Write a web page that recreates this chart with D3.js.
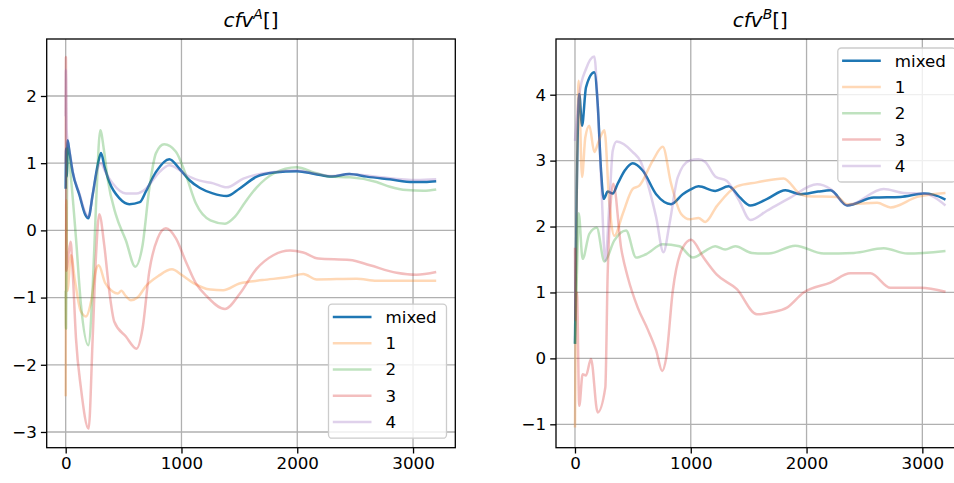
<!DOCTYPE html>
<html>
<head>
<meta charset="utf-8">
<script src="https://cdn.jsdelivr.net/npm/d3@7"></script>
<style>
  body { margin: 0; background: #fff; }
  svg { display: block; font-family: "DejaVu Sans", sans-serif; }
</style>
</head>
<body>
<svg id="chart" width="954" height="483"></svg>
<script>
// series labels + colours (matplotlib tab10)
var labels = ["mixed", "1", "2", "3", "4"];
var colors = ["#1f77b4", "#ff7f0e", "#2ca02c", "#d62728", "#9467bd"];

var xTicks = [0, 1000, 2000, 3000];
var yTicksA = [-3, -2, -1, 0, 1, 2];
var yTicksB = [-1, 0, 1, 2, 3, 4];

// cfv^A[] : [step, value]
var aMixed = [[0,0.62],[4,1.22],[9,0.8],[17,1.34],[30,1.2],[60,0.87],[118,0.53],[170,0.23],[195,0.18],[233,0.53],[276,0.97],[305,1.15],[335,0.95],[377,0.72],[463,0.48],[550,0.39],[640,0.42],[693,0.58],[780,0.87],[895,1.06],[981,0.92],[1067,0.75],[1160,0.63],[1270,0.55],[1390,0.51],[1500,0.62],[1650,0.8],[1800,0.86],[2000,0.88],[2150,0.84],[2300,0.80],[2450,0.84],[2600,0.8],[2800,0.76],[3000,0.72],[3100,0.72],[3200,0.73]];
var aOne = [[0,-2.47],[5,0.45],[14,-0.9],[46,-0.37],[80,-0.75],[130,-1.2],[175,-1.28],[220,-1.05],[260,-0.6],[285,-0.52],[340,-0.78],[405,-0.91],[450,-0.94],[480,-0.9],[520,-0.98],[563,-1.04],[620,-1.0],[693,-0.83],[800,-0.68],[918,-0.58],[1000,-0.66],[1100,-0.78],[1250,-0.88],[1360,-0.89],[1500,-0.79],[1700,-0.74],[1937,-0.69],[2052,-0.65],[2168,-0.73],[2513,-0.72],[2685,-0.75],[3200,-0.75]];
var aTwo = [[0,-0.9],[3,-1.46],[10,0.3],[17,1.22],[46,0.77],[89,-0.12],[132,-1.11],[195,-1.71],[233,-0.86],[262,0.38],[299,1.49],[330,1.2],[362,0.77],[434,0.23],[520,-0.15],[601,-0.54],[664,-0.22],[722,0.62],[780,1.15],[851,1.28],[952,1.17],[1039,0.82],[1125,0.40],[1250,0.15],[1376,0.1],[1460,0.2],[1550,0.42],[1650,0.64],[1800,0.85],[1995,0.94],[2150,0.86],[2282,0.8],[2455,0.79],[2685,0.72],[2800,0.65],[2945,0.60],[3090,0.59],[3200,0.61]];
var aThree = [[0,1.0],[2,2.58],[6,-0.6],[25,-0.35],[43,-0.17],[60,-0.6],[89,-1.61],[132,-2.35],[198,-2.95],[233,-1.61],[262,-0.37],[290,0.24],[333,-0.22],[377,-0.91],[420,-1.36],[520,-1.58],[612,-1.76],[664,-1.46],[722,-0.61],[794,-0.12],[866,0.03],[952,-0.12],[1039,-0.47],[1125,-0.79],[1218,-0.98],[1376,-1.17],[1505,-0.94],[1650,-0.57],[1793,-0.37],[1937,-0.30],[2052,-0.33],[2182,-0.42],[2455,-0.44],[2628,-0.52],[2858,-0.63],[3030,-0.66],[3200,-0.62]];
var aFour = [[0,1.7],[2,2.39],[8,1.5],[17,1.32],[30,1.22],[60,0.88],[118,0.55],[170,0.26],[195,0.2],[233,0.53],[276,0.92],[305,1.0],[340,0.88],[405,0.7],[520,0.55],[610,0.55],[693,0.62],[800,0.85],[895,0.97],[981,0.9],[1045,0.82],[1160,0.74],[1275,0.70],[1390,0.64],[1534,0.77],[1650,0.83],[1800,0.87],[2000,0.89],[2150,0.85],[2300,0.81],[2450,0.84],[2685,0.80],[3030,0.75],[3200,0.76]];

// cfv^B[]
var bMixed = [[0,0.22],[15,2.5],[37,4.01],[61,3.53],[95,4.11],[167,4.34],[196,3.86],[225,2.85],[248,2.42],[283,2.53],[326,2.50],[369,2.65],[430,2.85],[499,2.96],[585,2.85],[701,2.49],[830,2.34],[931,2.49],[995,2.56],[1067,2.61],[1211,2.54],[1326,2.61],[1420,2.45],[1514,2.32],[1660,2.42],[1817,2.55],[1946,2.49],[2100,2.53],[2206,2.55],[2350,2.32],[2580,2.44],[2811,2.45],[3013,2.50],[3100,2.48],[3200,2.41]];
var bOne = [[0,-1.05],[32,4.21],[61,2.75],[89,3.35],[124,3.53],[167,3.13],[196,3.25],[230,3.4],[254,3.46],[297,2.34],[340,1.86],[412,2.19],[499,2.57],[556,2.62],[672,3.0],[758,3.21],[830,2.65],[917,2.19],[989,2.11],[1067,2.13],[1125,2.07],[1225,2.31],[1398,2.61],[1571,2.67],[1802,2.73],[1946,2.49],[2004,2.46],[2264,2.45],[2350,2.34],[2610,2.36],[2725,2.29],[2956,2.45],[3200,2.51]];
var bTwo = [[0,0.22],[20,1.5],[32,2.2],[66,1.51],[124,1.89],[188,1.98],[254,1.47],[340,1.79],[441,1.94],[528,1.53],[614,1.58],[758,1.73],[902,1.70],[1018,1.53],[1133,1.64],[1211,1.70],[1297,1.65],[1384,1.70],[1528,1.60],[1672,1.59],[1903,1.71],[2148,1.59],[2408,1.60],[2667,1.67],[2870,1.59],[3200,1.63]];
var bThree = [[0,1.68],[5,0.58],[17,1.0],[37,-0.72],[66,-0.24],[95,-0.26],[138,-0.01],[196,-0.82],[262,-0.44],[283,1.33],[331,2.65],[398,1.68],[456,1.23],[542,0.77],[628,0.44],[701,0.12],[753,-0.19],[787,0.0],[845,1.03],[931,1.68],[1003,1.80],[1110,1.53],[1225,1.27],[1398,1.05],[1571,0.67],[1700,0.7],[1831,0.77],[1975,1.0],[2206,1.15],[2379,1.29],[2552,1.29],[2725,1.07],[2985,1.07],[3200,1.01]];
var bFour = [[0,3.3],[37,4.0],[95,4.39],[167,4.58],[196,3.86],[225,2.75],[262,1.48],[297,2.34],[326,3.15],[360,3.29],[499,3.13],[571,2.97],[628,2.65],[701,2.14],[764,1.61],[816,2.04],[888,2.75],[989,3.0],[1067,3.02],[1125,2.98],[1211,2.76],[1312,2.69],[1413,2.41],[1514,2.10],[1658,2.24],[1860,2.44],[2091,2.64],[2206,2.57],[2350,2.32],[2667,2.57],[2840,2.51],[3013,2.50],[3200,2.32]];

var svg = d3.select("#chart");
var FS = 16.7;

function drawPanel(p) {
  var x = d3.scaleLinear().domain([-164, 3365]).range([p.left, p.left + 408.6]);
  var y = d3.scaleLinear().domain(p.yDomain).range([447.7, 39]);
  var top = 39, bottom = 447.7, left = p.left, right = p.left + 408.6;

  var g = svg.append("g");
  var clipId = "clip" + p.id;
  g.append("clipPath").attr("id", clipId)
    .append("rect").attr("x", left).attr("y", top)
    .attr("width", right - left).attr("height", bottom - top);

  // grid
  g.selectAll(".gx").data(xTicks).enter().append("line")
    .attr("x1", function(d){ return x(d); }).attr("x2", function(d){ return x(d); })
    .attr("y1", top).attr("y2", bottom)
    .attr("stroke", "#b0b0b0").attr("stroke-width", 1.3);
  g.selectAll(".gy").data(p.yTicks).enter().append("line")
    .attr("x1", left).attr("x2", right)
    .attr("y1", function(d){ return y(d); }).attr("y2", function(d){ return y(d); })
    .attr("stroke", "#b0b0b0").attr("stroke-width", 1.3);

  // lines
  var line = d3.line()
    .x(function(d){ return x(d[0]); })
    .y(function(d){ return y(d[1]); })
    .curve(d3.curveMonotoneX);
  var lines = g.append("g").attr("clip-path", "url(#" + clipId + ")");
  p.series.forEach(function(s, i){
    lines.append("path").datum(s)
      .attr("d", line)
      .attr("fill", "none")
      .attr("stroke", colors[i])
      .attr("stroke-width", 2.5)
      .attr("stroke-opacity", i === 0 ? 1 : 0.3)
      .attr("stroke-linejoin", "round");
  });

  // axes via d3.axis
  var xAxis = d3.axisBottom(x).tickValues(xTicks).tickSize(5.8).tickPadding(4).tickFormat(d3.format("d"));
  var yAxis = d3.axisLeft(y).tickValues(p.yTicks).tickSize(5.8).tickPadding(4).tickFormat(d3.format("d"));
  var gx = g.append("g").attr("transform", "translate(0," + bottom + ")").call(xAxis);
  var gy = g.append("g").attr("transform", "translate(" + left + ",0)").call(yAxis);
  [gx, gy].forEach(function(a){
    a.select(".domain").remove();
    a.selectAll("line").attr("stroke", "#000").attr("stroke-width", 1.3);
    a.selectAll("text").attr("fill", "#000").attr("font-size", FS)
      .attr("font-family", "DejaVu Sans");
  });

  // spines
  g.append("rect").attr("x", left).attr("y", top)
    .attr("width", right - left).attr("height", bottom - top)
    .attr("fill", "none").attr("stroke", "#000").attr("stroke-width", 1.3);

  // title
  var t = g.append("text").attr("x", (left + right) / 2).attr("y", 27)
    .attr("text-anchor", "middle").attr("font-size", 20).attr("fill", "#000");
  t.append("tspan").attr("font-style", "italic").text("cfv");
  t.append("tspan").attr("font-style", "italic").attr("font-size", 14).attr("dy", -8).text(p.sup);
  t.append("tspan").attr("dy", 8).text("[]");

  // legend
  var lw = 118, lh = 134;
  var lx = right - 8.8 - lw;
  var ly = p.legendBottom ? bottom - 9.5 - lh : top + 9;
  var lg = g.append("g").attr("transform", "translate(" + lx + "," + ly + ")");
  lg.append("rect").attr("width", lw).attr("height", lh).attr("rx", 3.5)
    .attr("fill", "#fff").attr("fill-opacity", 0.8)
    .attr("stroke", "#cccccc").attr("stroke-width", 1.3);
  labels.forEach(function(l, i){
    var cy = 12.7 + i * 26.3;
    lg.append("line").attr("x1", 4.3).attr("x2", 43).attr("y1", cy).attr("y2", cy)
      .attr("stroke", colors[i]).attr("stroke-width", 2.5)
      .attr("stroke-opacity", i === 0 ? 1 : 0.3);
    lg.append("text").attr("x", 57).attr("y", cy).attr("dy", "0.36em")
      .attr("font-size", FS).attr("fill", "#000").text(l);
  });
}

drawPanel({ id: "A", left: 46.7, sup: "A", yDomain: [-3.234, 2.848], yTicks: yTicksA,
  series: [aMixed, aOne, aTwo, aThree, aFour], legendBottom: true });
drawPanel({ id: "B", left: 556, sup: "B", yDomain: [-1.355, 4.845], yTicks: yTicksB,
  series: [bMixed, bOne, bTwo, bThree, bFour], legendBottom: false });
</script>
</body>
</html>
